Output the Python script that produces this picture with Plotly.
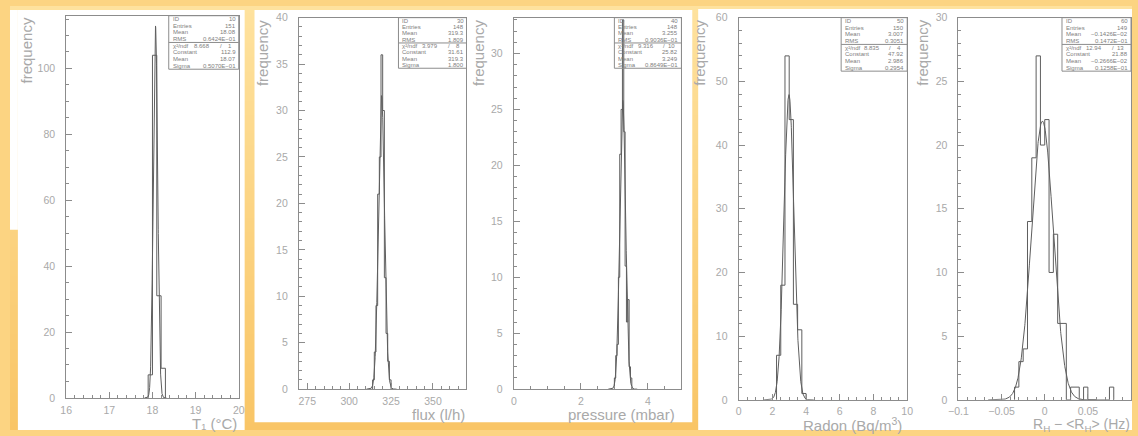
import base64
import struct
import zlib

import numpy as np
import plotly.graph_objects as go

W, H = 1138, 436

# ---------------- data ----------------
# T1 temperature (bin width 0.1)
t1_lo = [17.9, 18.0, 18.1, 18.2]
t1_counts = [7, 104, 31, 9]
t1_width = 0.1
t1_stats = ["10", "151", "18.08", "0.6424E-01"]
t1_chi2 = ["8.668", "1"]
t1_fit = ["112.9", "18.07", "0.5070E-01"]

# flux (bin width 1)
flux_lo = [314, 315, 316, 317, 318, 319, 320, 321, 322, 323, 324]
flux_counts = [1, 4, 9, 21, 25, 36, 30, 12, 6, 3, 1]
flux_width = 1.0
flux_stats = ["30", "148", "319.3", "1.809"]
flux_chi2 = ["3.979", "8"]
flux_fit = ["31.61", "319.3", "1.800"]

# pressure (bin width 0.04)
pres_lo = [3.00, 3.04, 3.08, 3.12, 3.16, 3.20, 3.24, 3.28, 3.32, 3.36, 3.40, 3.44, 3.48]
pres_counts = [1, 3, 4, 10, 21, 25, 33, 23, 11, 6, 8, 2, 1]
pres_width = 0.04
pres_stats = ["40", "148", "3.255", "0.9036E-01"]
pres_chi2 = ["9.316", "10"]
pres_fit = ["25.82", "3.249", "0.8649E-01"]

# radon (bin width 0.25)
radon_lo = [2.25, 2.5, 2.75, 3.0, 3.25, 3.5, 3.75]
radon_counts = [7, 18, 54, 44, 15, 11, 1]
radon_width = 0.25
radon_stats = ["50", "150", "3.007", "0.3051"]
radon_chi2 = ["8.835", "4"]
radon_fit = ["47.92", "2.986", "0.2954"]

# rate deviation (bin width 0.005)
rh_lo = [-0.035, -0.03, -0.025, -0.02, -0.015, -0.01, -0.005, 0.0, 0.005, 0.01,
         0.015, 0.02, 0.03, 0.035, 0.045, 0.075]
rh_counts = [1, 3, 4, 14, 19, 27, 20, 22, 10, 13, 6, 6, 1, 1, 1, 1]
rh_width = 0.005
rh_stats = ["60", "149", "-0.1426E-02", "0.1472E-01"]
rh_chi2 = ["12.94", "13"]
rh_fit = ["21.88", "-0.2666E-02", "0.1258E-01"]

stat_labels = ["ID", "Entries", "Mean", "RMS"]
fit_labels = ["Constant", "Mean", "Sigma"]

# ---------------- styling ----------------
BG_TOP = (254, 226, 158)
BG_BOTTOM = (249, 197, 102)
FRAME = "#8c8c8c"
HIST = "#5e5e5e"
TXT = "#a9a9a9"
STXT = "#7e7e7e"
FONT = "Liberation Sans, Arial, sans-serif"

panels = [
    dict(lo=t1_lo, counts=t1_counts, width=t1_width, stats=t1_stats, chi2=t1_chi2, fit=t1_fit,
         box=(57, 232, 10, 403), sbox=(161, 232, 10, 65),
         xr=[16, 20], xd=1, x0=16, xm=0.2, yr=[0, 116], yd=20, ym=5,
         ytitle=(17, 10), xtitle=(231, 429), xlabel="T₁ (°C)", xsize=15),
    dict(lo=flux_lo, counts=flux_counts, width=flux_width, stats=flux_stats, chi2=flux_chi2, fit=flux_fit,
         box=(293, 463, 12, 394), sbox=(394, 463, 12, 64),
         xr=[270, 370], xd=25, x0=275, xm=5, yr=[0, 40], yd=5, ym=1,
         ytitle=(256, 12), xtitle=(462, 420), xlabel="flux (l/h)", xsize=15),
    dict(lo=pres_lo, counts=pres_counts, width=pres_width, stats=pres_stats, chi2=pres_chi2, fit=pres_fit,
         box=(511, 681, 12, 394), sbox=(613, 681, 12, 64),
         xr=[0, 5], xd=2, x0=0, xm=0.5, yr=[0, 33.2], yd=5, ym=1,
         ytitle=(475, 12), xtitle=(676, 420), xlabel="pressure (mbar)", xsize=15),
    dict(lo=radon_lo, counts=radon_counts, width=radon_width, stats=radon_stats, chi2=radon_chi2, fit=radon_fit,
         box=(739, 910, 12, 405), sbox=(843, 910, 12, 67),
         xr=[0, 10], xd=2, x0=0, xm=0.5, yr=[0, 60], yd=10, ym=2,
         ytitle=(700, 12), xtitle=(906, 430), xlabel="Radon (Bq/m<sup>3</sup>)", xsize=15),
    dict(lo=rh_lo, counts=rh_counts, width=rh_width, stats=rh_stats, chi2=rh_chi2, fit=rh_fit,
         box=(962, 1137, 12, 405), sbox=(1067, 1137, 12, 67),
         xr=[-0.1, 0.1], xd=0.05, x0=0, xm=0.01, yr=[0, 30], yd=5, ym=1,
         ytitle=(926, 12), xtitle=(1137, 431), xlabel="R<sub>H</sub> − <R<sub>H</sub>> (Hz)", xsize=14),
]


def fx(px):
    return px / W


def fy(py):
    return 1 - py / H


def gradient_png(top, bottom, height):
    """1-pixel-wide vertical colour ramp encoded as a PNG data URI."""
    raw = b""
    for i in range(height):
        t = i / (height - 1)
        raw += b"\x00" + bytes(round(a + (b - a) * t) for a, b in zip(top, bottom))

    def chunk(tag, data):
        return (struct.pack(">I", len(data)) + tag + data
                + struct.pack(">I", zlib.crc32(tag + data) & 0xFFFFFFFF))

    png = (b"\x89PNG\r\n\x1a\n"
           + chunk(b"IHDR", struct.pack(">IIBBBBB", 1, height, 8, 2, 0, 0, 0))
           + chunk(b"IDAT", zlib.compress(raw))
           + chunk(b"IEND", b""))
    return "data:image/png;base64," + base64.b64encode(png).decode()


def outline(lo_edges, counts, width):
    """Step outline of a histogram, dropping to zero across empty gaps."""
    xs, ys = [], []
    prev_hi = None
    for lo, c in zip(lo_edges, counts):
        hi = lo + width
        if prev_hi is None or abs(lo - prev_hi) > width * 1e-6:
            if prev_hi is not None:
                xs.append(prev_hi)
                ys.append(0)
            xs.append(lo)
            ys.append(0)
        xs += [lo, hi]
        ys += [c, c]
        prev_hi = hi
    xs.append(prev_hi)
    ys.append(0)
    return xs, ys


fig = go.Figure()
shapes = []
annotations = []

# white sheets on the orange backdrop
for x0, x1, y0, y1 in [(8, 238, 4, 436), (0, 8, 4, 230), (248, 692, 4, 428), (698, 1138, 3, 436)]:
    shapes.append(dict(type="rect", xref="paper", yref="paper", x0=fx(x0), x1=fx(x1),
                       y0=fy(y1), y1=fy(y0), fillcolor="white", line=dict(width=0), layer="below"))

for i, p in enumerate(panels, start=1):
    xa = "x" if i == 1 else f"x{i}"
    ya = "y" if i == 1 else f"y{i}"
    bx0, bx1, by0, by1 = p["box"]

    hx, hy = outline(p["lo"], p["counts"], p["width"])
    fig.add_trace(go.Scatter(x=hx, y=hy, mode="lines", line=dict(color=HIST, width=1),
                             xaxis=xa, yaxis=ya, hoverinfo="skip", showlegend=False))

    const, mean, sigma = (float(v) for v in p["fit"])
    gx = np.linspace(mean - 5 * sigma, mean + 5 * sigma, 600)
    gy = const * np.exp(-0.5 * ((gx - mean) / sigma) ** 2)
    fig.add_trace(go.Scatter(x=gx, y=gy, mode="lines", line=dict(color=HIST, width=1),
                             xaxis=xa, yaxis=ya, hoverinfo="skip", showlegend=False))

    axis_common = dict(showline=True, mirror=True, linecolor=FRAME, linewidth=1,
                       showgrid=False, zeroline=False, ticks="inside", tickcolor=FRAME,
                       ticklen=6, tickwidth=1,
                       tickfont=dict(family=FONT, size=10.5, color=TXT))
    fig.update_layout(**{
        ("xaxis" if i == 1 else f"xaxis{i}"): dict(
            axis_common, domain=[fx(bx0), fx(bx1)], anchor=ya, range=p["xr"],
            tick0=p["x0"], dtick=p["xd"], ticklabelstandoff=2,
            minor=dict(ticks="inside", dtick=p["xm"], ticklen=3, tickcolor=FRAME)),
        ("yaxis" if i == 1 else f"yaxis{i}"): dict(
            axis_common, domain=[fy(by1), fy(by0)], anchor=xa, range=p["yr"],
            tick0=0, dtick=p["yd"], ticklabelstandoff=8,
            minor=dict(ticks="inside", dtick=p["ym"], ticklen=3, tickcolor=FRAME)),
    })

    # axis titles
    tx, ty = p["ytitle"]
    annotations.append(dict(text="frequency", x=fx(tx), y=fy(ty), xref="paper", yref="paper",
                            textangle=-90, xanchor="center", yanchor="top", showarrow=False,
                            font=dict(family=FONT, size=15, color=TXT)))
    tx, ty = p["xtitle"]
    annotations.append(dict(text=p["xlabel"], x=fx(tx), y=fy(ty), xref="paper", yref="paper",
                            xanchor="right", yanchor="middle", showarrow=False, borderpad=0,
                            font=dict(family=FONT, size=p["xsize"], color=TXT)))

    # statistics box
    sx0, sx1, sy0, sy1 = p["sbox"]
    row = (sy1 - sy0) / 8
    shapes.append(dict(type="rect", xref="paper", yref="paper", x0=fx(sx0), x1=fx(sx1),
                       y0=fy(sy1), y1=fy(sy0), line=dict(color=FRAME, width=1)))
    shapes.append(dict(type="line", xref="paper", yref="paper", x0=fx(sx0), x1=fx(sx1),
                       y0=fy(sy0 + 4 * row), y1=fy(sy0 + 4 * row), line=dict(color=FRAME, width=1)))
    w = sx1 - sx0
    rows = list(zip(stat_labels, p["stats"])) + [("χ²/ndf", None)] + \
        list(zip(fit_labels, p["fit"]))
    for r, (lab, val) in enumerate(rows):
        yc = fy(sy0 + (r + 0.5) * row)
        annotations.append(dict(text=lab, x=fx(sx0 + 3), y=yc, xref="paper", yref="paper",
                                xanchor="left", yanchor="middle", showarrow=False, borderpad=0,
                                font=dict(family=FONT, size=6, color=STXT)))
        if val is not None:
            annotations.append(dict(text=val.replace("-", "−"), x=fx(sx1 - 2), y=yc,
                                    xref="paper", yref="paper", xanchor="right", yanchor="middle",
                                    showarrow=False, borderpad=0,
                                    font=dict(family=FONT, size=6, color=STXT)))
        else:
            chi, ndf = p["chi2"]
            for txt, xp, anc in [(chi, sx0 + 0.47 * w, "center"), ("/", sx0 + 0.74 * w, "center"),
                                 (ndf, sx0 + 0.92 * w, "right")]:
                annotations.append(dict(text=txt, x=fx(xp), y=yc, xref="paper", yref="paper",
                                        xanchor=anc, yanchor="middle", showarrow=False, borderpad=0,
                                        font=dict(family=FONT, size=6, color=STXT)))

fig.update_layout(
    width=W, height=H, margin=dict(l=0, r=0, t=0, b=0),
    paper_bgcolor="rgb(252,212,130)", plot_bgcolor="rgba(0,0,0,0)",
    images=[dict(source=gradient_png(BG_TOP, BG_BOTTOM, H), xref="paper", yref="paper",
                 x=0, y=1, sizex=1, sizey=1, xanchor="left", yanchor="top",
                 sizing="stretch", layer="below")],
    shapes=shapes, annotations=annotations, showlegend=False)

fig.write_html("out.html")
